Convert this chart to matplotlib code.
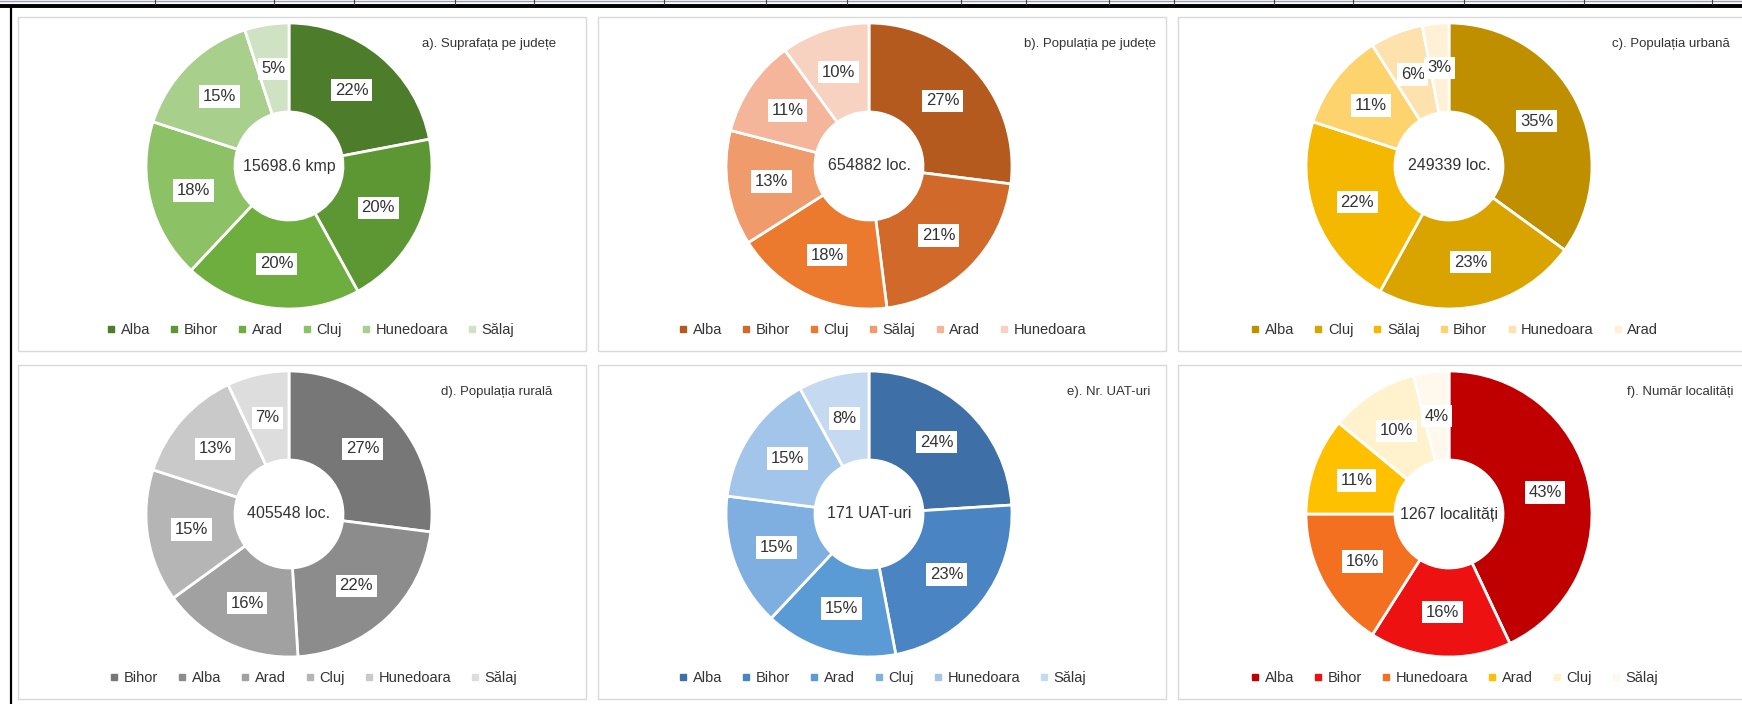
import matplotlib
matplotlib.use("Agg")
import matplotlib.pyplot as plt
from matplotlib.lines import Line2D
from matplotlib.patches import Rectangle
import numpy as np

plt.rcParams["font.family"] = ["Liberation Sans", "DejaVu Sans"]
INK = "#333333"

# ---- data ----
titles = ["a). Suprafața pe județe", "b). Populația pe județe", "c). Populația urbană",
          "d). Populația rurală", "e). Nr. UAT-uri", "f). Număr localități"]
centers = ["15698.6 kmp", "654882 loc.", "249339 loc.", "405548 loc.", "171 UAT-uri", "1267 localități"]

a_lab = ["Alba", "Bihor", "Arad", "Cluj", "Hunedoara", "Sălaj"]
a_val = [22, 20, 20, 18, 15, 5]
a_col = ["#4D7C2B", "#5C9733", "#6DAE3F", "#8DC165", "#A8CF8C", "#CFE2C3"]

b_lab = ["Alba", "Bihor", "Cluj", "Sălaj", "Arad", "Hunedoara"]
b_val = [27, 21, 18, 13, 11, 10]
b_col = ["#B45A1E", "#D0692A", "#EB7A2F", "#F09B6B", "#F4B59A", "#F8D2C0"]

c_lab = ["Alba", "Cluj", "Sălaj", "Bihor", "Hunedoara", "Arad"]
c_val = [35, 23, 22, 11, 6, 3]
c_col = ["#BF8F00", "#D9A300", "#F5B800", "#FDD36E", "#FDE2AE", "#FFF0D6"]

d_lab = ["Bihor", "Alba", "Arad", "Cluj", "Hunedoara", "Sălaj"]
d_val = [27, 22, 16, 15, 13, 7]
d_col = ["#777777", "#8C8C8C", "#A1A1A1", "#B5B5B5", "#C9C9C9", "#DDDDDD"]

e_lab = ["Alba", "Bihor", "Arad", "Cluj", "Hunedoara", "Sălaj"]
e_val = [24, 23, 15, 15, 15, 8]
e_col = ["#3E6FA6", "#4A84C2", "#5B9BD5", "#7FAFE0", "#A3C5EA", "#C5D9F0"]

f_lab = ["Alba", "Bihor", "Hunedoara", "Arad", "Cluj", "Sălaj"]
f_val = [43, 16, 16, 11, 10, 4]
f_col = ["#C00000", "#EE1111", "#F37021", "#FFC000", "#FFF2CC", "#FFF8EC"]

W, H = 1742, 704
fig = plt.figure(figsize=(W / 100, H / 100), dpi=100)
fig.patch.set_facecolor("white")

def fx(x): return x / W
def fy(y): return 1 - y / H

# scan leftovers: table rule on top, black line on the left
fig.add_artist(Line2D([0, 1], [fy(6), fy(6)], color="black", lw=2.8, transform=fig.transFigure))
fig.add_artist(Line2D([0, 1], [fy(0.5), fy(0.5)], color="#9A9AB0", lw=1, transform=fig.transFigure))
for tx in [155, 274, 354, 455, 534, 664, 766, 847, 961, 1026, 1109, 1174, 1274, 1353, 1464, 1584, 1712]:
    fig.add_artist(Line2D([fx(tx), fx(tx)], [fy(0), fy(4)], color="#444444", lw=0.8,
                          transform=fig.transFigure))
fig.add_artist(Line2D([fx(11), fx(11)], [fy(7), 0], color="black", lw=1.6, transform=fig.transFigure))

series = [(a_lab, a_val, a_col), (b_lab, b_val, b_col), (c_lab, c_val, c_col),
          (d_lab, d_val, d_col), (e_lab, e_val, e_col), (f_lab, f_val, f_col)]
px0 = [18, 598, 1178]; py0 = [17, 365]; pw = 568; ph = 334
title_x = [556, 1156, 1730, 552, 1150, 1733]
leg_x = [311, 883, 1455, 314, 883, 1455]
R, RIN = 143, 54

for k, (labs, vals, cols) in enumerate(series):
    x0, y0 = px0[k % 3], py0[k // 3]
    fig.add_artist(Rectangle((fx(x0), fy(y0 + ph)), pw / W, ph / H, transform=fig.transFigure,
                             facecolor="white", edgecolor="#D9D9D9", lw=1.0, zorder=0))
    cx, cy = x0 + 271, y0 + 149
    ax = fig.add_axes([fx(cx - R), fy(cy + R), 2 * R / W, 2 * R / H])
    ax.pie(vals, colors=cols, startangle=90, counterclock=False, radius=1,
           wedgeprops=dict(width=1 - RIN / R, edgecolor="white", linewidth=2))
    ax.set_xlim(-1, 1); ax.set_ylim(-1, 1); ax.set_aspect("equal"); ax.axis("off")
    ax.text(0, 0, centers[k], ha="center", va="center", fontsize=11.5, color=INK)
    tot = float(sum(vals)); cum = 0.0; rm = (1 + RIN / R) / 2
    for v in vals:
        th = np.deg2rad(90 - 360 * (cum + v / 2) / tot)
        ax.text(rm * np.cos(th), rm * np.sin(th), f"{v}%", ha="center", va="center", fontsize=12,
                color=INK, bbox=dict(boxstyle="square,pad=0.22", fc="white", ec="none"))
        cum += v
    fig.text(fx(title_x[k]), fy(y0 + 27), titles[k], ha="right", va="center", fontsize=9.5, color=INK)
    hs = [Line2D([], [], ls="none", marker="s", ms=4, mfc=c, mec=c) for c in cols]
    ax.legend(hs, labs, ncol=6, loc="center", bbox_to_anchor=(fx(leg_x[k]), fy(y0 + 313)),
              bbox_transform=fig.transFigure, frameon=False, fontsize=10.5, labelcolor=INK,
              handlelength=0.5, handletextpad=0.4, columnspacing=1.4, borderpad=0)

fig.savefig("out.png", dpi=100, facecolor="white")
